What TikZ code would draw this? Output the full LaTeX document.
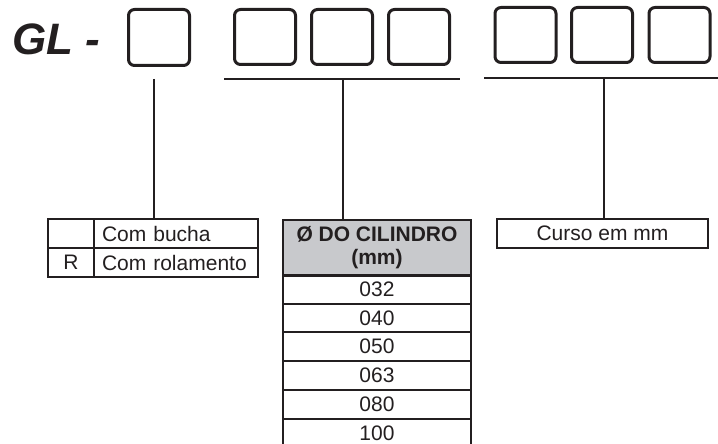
\documentclass[tikz,border=0pt]{standalone}
\usepackage{fontspec}
\setmainfont{Liberation Sans}
\definecolor{ink}{RGB}{35,31,32}
\definecolor{hdrgray}{RGB}{200,201,204}
\newcommand\tabfnt{\fontsize{21}{23}\selectfont}
\begin{document}
\begin{tikzpicture}[x=1pt,y=-1pt,
  digit/.style={draw=ink, line width=3pt, rounded corners=6pt, minimum width=61pt, minimum height=55pt, inner sep=0pt},
  cell/.style={draw=ink, line width=2pt, inner sep=0pt, font=\tabfnt, text=ink},
  conn/.style={draw=ink, line width=2pt},
  lcell/.style={cell, minimum width=46pt, minimum height=29pt},
  rcell/.style={cell, minimum width=164pt, minimum height=29pt, text width=148pt, align=left},
  vcell/.style={cell, minimum width=188pt, minimum height=28.7pt}]
\useasboundingbox (0,0) rectangle (718,444);
% title
\node[anchor=base west, inner sep=0pt, text=ink, font=\fontsize{44}{48}\selectfont\bfseries\itshape] (gl) at (12,55) {GL -};
% code boxes
\node[digit, minimum height=56pt] (b1) at (159,37.5) {};
\node[digit] (b2) at (265,37) {};
\node[digit] (b3) at (342,37) {};
\node[digit] (b4) at (419,37) {};
\node[digit] (b5) at (525.5,35) {};
\node[digit] (b6) at (602,35) {};
\node[digit] (b7) at (679.5,35) {};
% left table
\node[lcell] (ta) at (71,233.5) {};
\node[rcell] (tb) at (176,233.5) {Com bucha};
\node[lcell] (tc) at (71,262.5) {R};
\node[rcell] (td) at (176,262.5) {Com rolamento};
% middle table
\node[cell, fill=hdrgray, minimum width=188pt, minimum height=56pt, align=center, font=\tabfnt\bfseries] (hd) at (377,247.5) {Ø DO CILINDRO\\(mm)};
\node[vcell] (r1) at (377,289.35) {032};
\node[vcell] (r2) at (377,318.05) {040};
\node[vcell] (r3) at (377,346.75) {050};
\node[vcell] (r4) at (377,375.45) {063};
\node[vcell] (r5) at (377,404.15) {080};
\node[vcell] (r6) at (377,432.85) {100};
% right table
\node[cell, minimum width=211pt, minimum height=29pt] (cu) at (602.5,233.5) {Curso em mm};
% connectors
\coordinate (v1) at (154,79);
\draw[conn] (v1) -- (v1 |- tb.north);
\coordinate (h2a) at (224,79);
\coordinate (h2b) at (460,79);
\coordinate (v2) at (343,79);
\draw[conn] (h2a) -- (h2b);
\draw[conn] (v2) -- (v2 |- hd.north);
\coordinate (h3a) at (484,78);
\coordinate (h3b) at (718,78);
\coordinate (v3) at (604,78);
\draw[conn] (h3a) -- (h3b);
\draw[conn] (v3) -- (v3 |- cu.north);
\end{tikzpicture}
\end{document}
